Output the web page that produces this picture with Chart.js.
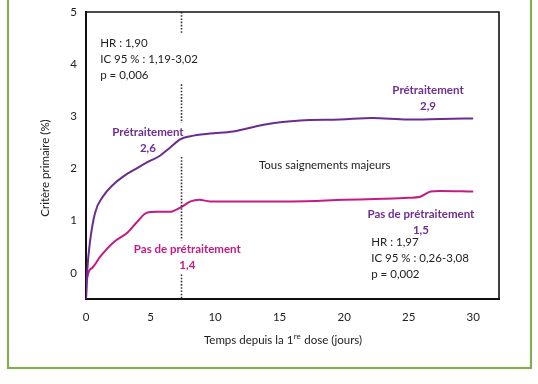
<!DOCTYPE html>
<html><head><meta charset="utf-8">
<script src="https://cdn.jsdelivr.net/npm/chart.js@4.4.0/dist/chart.umd.min.js"></script>
<style>html,body{margin:0;padding:0;background:#fff}#wrap{width:538px;height:384px}</style>
</head><body><div id="wrap"><canvas id="c" width="538" height="384"></canvas></div>
<script>
const daysPre = [0, 0.1, 0.3, 0.7, 1.3, 2.1, 2.9, 3.9, 4.9, 5.7, 6.5, 7.3, 8.1, 9.6, 11.4, 14, 16.6, 19.7, 22.2, 24.9, 27.5, 30];
const valsPre = [-0.5, 0.05, 0.58, 1.15, 1.46, 1.69, 1.85, 2.0, 2.14, 2.24, 2.4, 2.56, 2.62, 2.67, 2.71, 2.85, 2.92, 2.94, 2.97, 2.94, 2.95, 2.96];
const daysNo = [0, 0.05, 0.5, 1.1, 2.1, 3.2, 3.9, 4.7, 5.5, 6.5, 7.3, 8.1, 8.8, 9.6, 12, 16, 20, 23, 25, 25.9, 26.7, 27.4, 30];
const valsNo = [-0.5, -0.17, 0.1, 0.31, 0.58, 0.77, 0.96, 1.15, 1.17, 1.17, 1.25, 1.37, 1.40, 1.37, 1.37, 1.37, 1.40, 1.42, 1.44, 1.46, 1.56, 1.57, 1.56];
const xTicks = [0, 5, 10, 15, 20, 25, 30];
const yTicks = [0, 1, 2, 3, 4, 5];
const firstDoseLine = 7.4;
const yTitle = "Critère primaire (%)";
const xTitleParts = ["Temps depuis la 1", "re", " dose (jours)"];
// annotations: [text, x value, y value, color, bold, align]
const notes = [
  {lines:["HR : 1,90","IC 95 % : 1,19-3,02","p = 0,006"], x:1.1, y:4.4, color:"#222", bold:false, align:"left"},
  {lines:["Prétraitement","2,6"], x:4.8, y:2.7, color:"#6e2f8f", bold:true, align:"center"},
  {lines:["Tous saignements majeurs"], x:18.5, y:2.07, color:"#222", bold:false, align:"center"},
  {lines:["Prétraitement","2,9"], x:26.5, y:3.5, color:"#6e2f8f", bold:true, align:"center"},
  {lines:["Pas de prétraitement","1,4"], x:7.85, y:0.45, color:"#c21c82", bold:true, align:"center"},
  {lines:["Pas de prétraitement","1,5"], x:25.95, y:1.13, color:"#6e2f8f", bold:true, align:"center"},
  {lines:["HR : 1,97","IC 95 % : 0,26-3,08","p = 0,002"], x:22.1, y:0.58, color:"#222", bold:false, align:"left"}
];
const FONT = "Lato";

const decor = {
  id: 'decor',
  beforeDraw(chart) {
    const ctx = chart.ctx;
    ctx.save();
    ctx.fillStyle = '#fff';
    ctx.fillRect(0, 0, chart.width, chart.height);
    ctx.strokeStyle = '#82ad55';
    ctx.lineWidth = 2.2;
    ctx.strokeRect(8, -10, 523, 378);
    ctx.restore();
  },
  afterDatasetsDraw(chart) {
    const ctx = chart.ctx, xs = chart.scales.x, ys = chart.scales.y, a = chart.chartArea;
    ctx.save();
    // boxes of notes
    const boxes = [];
    const lh = 16;
    notes.forEach(n => {
      ctx.font = (n.bold ? 'bold ' : '') + '11.5px ' + FONT;
      const px = xs.getPixelForValue(n.x), py = ys.getPixelForValue(n.y);
      let w = 0; n.lines.forEach(l => w = Math.max(w, ctx.measureText(l).width));
      const left = n.align === 'left' ? px : px - w / 2;
      boxes.push({l:left-2, r:left+w+2, t:py-9, b:py+(n.lines.length-1)*lh+9, n, px, py});
    });
    // dotted line with gaps
    const lx = xs.getPixelForValue(firstDoseLine);
    let gaps = boxes.filter(b => b.l <= lx && b.r >= lx).map(b => [b.t, b.b]).sort((p,q)=>p[0]-q[0]);
    ctx.strokeStyle = '#333';
    ctx.lineWidth = 1.6;
    ctx.setLineDash([1.6, 1.6]);
    let y0 = a.top;
    const segs = [];
    gaps.forEach(g => { if (g[0] > y0) segs.push([y0, g[0]]); y0 = Math.max(y0, g[1]); });
    if (y0 < a.bottom) segs.push([y0, a.bottom]);
    segs.forEach(s => { ctx.beginPath(); ctx.moveTo(lx, s[0]); ctx.lineTo(lx, s[1]); ctx.stroke(); });
    ctx.setLineDash([]);
    // texts
    boxes.forEach(b => {
      const n = b.n;
      ctx.font = (n.bold ? 'bold ' : '') + '11.5px ' + FONT;
      ctx.fillStyle = n.color;
      ctx.textAlign = n.align;
      ctx.textBaseline = 'middle';
      n.lines.forEach((l, i) => ctx.fillText(l, b.px, b.py + i * lh));
    });
    // plot frame (top & right)
    ctx.strokeStyle = '#111';
    ctx.lineWidth = 1.6;
    ctx.beginPath();
    ctx.moveTo(a.left, a.top); ctx.lineTo(a.right, a.top); ctx.lineTo(a.right, a.bottom);
    ctx.stroke();
    // axis titles
    ctx.fillStyle = '#222';
    ctx.font = '11.5px ' + FONT;
    ctx.textBaseline = 'middle';
    ctx.save();
    ctx.translate(45, 168);
    ctx.rotate(-Math.PI / 2);
    ctx.textAlign = 'center';
    ctx.fillText(yTitle, 0, 0);
    ctx.restore();
    const small = '8px ' + FONT;
    const w1 = ctx.measureText(xTitleParts[0]).width;
    const w3 = ctx.measureText(xTitleParts[2]).width;
    ctx.font = small; const w2 = ctx.measureText(xTitleParts[1]).width;
    const tot = w1 + w2 + w3;
    let sx = (a.left + a.right) / 2 - tot / 2 - 10;
    const ty = 340;
    ctx.textAlign = 'left';
    ctx.font = '11.5px ' + FONT; ctx.fillText(xTitleParts[0], sx, ty);
    ctx.font = small; ctx.fillText(xTitleParts[1], sx + w1 + 0.5, ty - 4);
    ctx.font = '11.5px ' + FONT; ctx.fillText(xTitleParts[2], sx + w1 + w2 + 1, ty);
    ctx.restore();
  }
};

new Chart(document.getElementById('c'), {
  type: 'line',
  data: {
    datasets: [
      {data: daysPre.map((d, i) => ({x: d, y: valsPre[i]})), borderColor: '#6a2d8f', borderWidth: 2, pointRadius: 0, cubicInterpolationMode: 'monotone', fill: false},
      {data: daysNo.map((d, i) => ({x: d, y: valsNo[i]})), borderColor: '#c21c82', borderWidth: 2, pointRadius: 0, cubicInterpolationMode: 'monotone', fill: false}
    ]
  },
  options: {
    responsive: false, animation: false, devicePixelRatio: 1,
    layout: {padding: {top: 12, right: 39, left: 0, bottom: 0}},
    plugins: {legend: {display: false}, tooltip: {enabled: false}},
    scales: {
      x: {
        type: 'linear', min: 0, max: 32,
        afterBuildTicks: s => { s.ticks = xTicks.map(v => ({value: v})); },
        afterFit: s => { s.height = 85; },
        grid: {display: false, drawOnChartArea: false, drawTicks: true, tickLength: 5, tickWidth: 1.6, tickColor: '#111'},
        border: {display: true, color: '#111', width: 2},
        ticks: {color: '#222', font: {family: FONT, size: 11.5}, padding: 6, maxRotation: 0}
      },
      y: {
        type: 'linear', min: -0.5, max: 5,
        afterBuildTicks: s => { s.ticks = yTicks.map(v => ({value: v})); },
        afterFit: s => { s.width = 86; },
        grid: {display: false, drawOnChartArea: false, drawTicks: true, tickLength: 5, tickWidth: 1.6, tickColor: '#111'},
        border: {display: true, color: '#111', width: 2},
        ticks: {color: '#222', font: {family: FONT, size: 11.5}, padding: 4}
      }
    }
  },
  plugins: [decor]
});
</script></body></html>
